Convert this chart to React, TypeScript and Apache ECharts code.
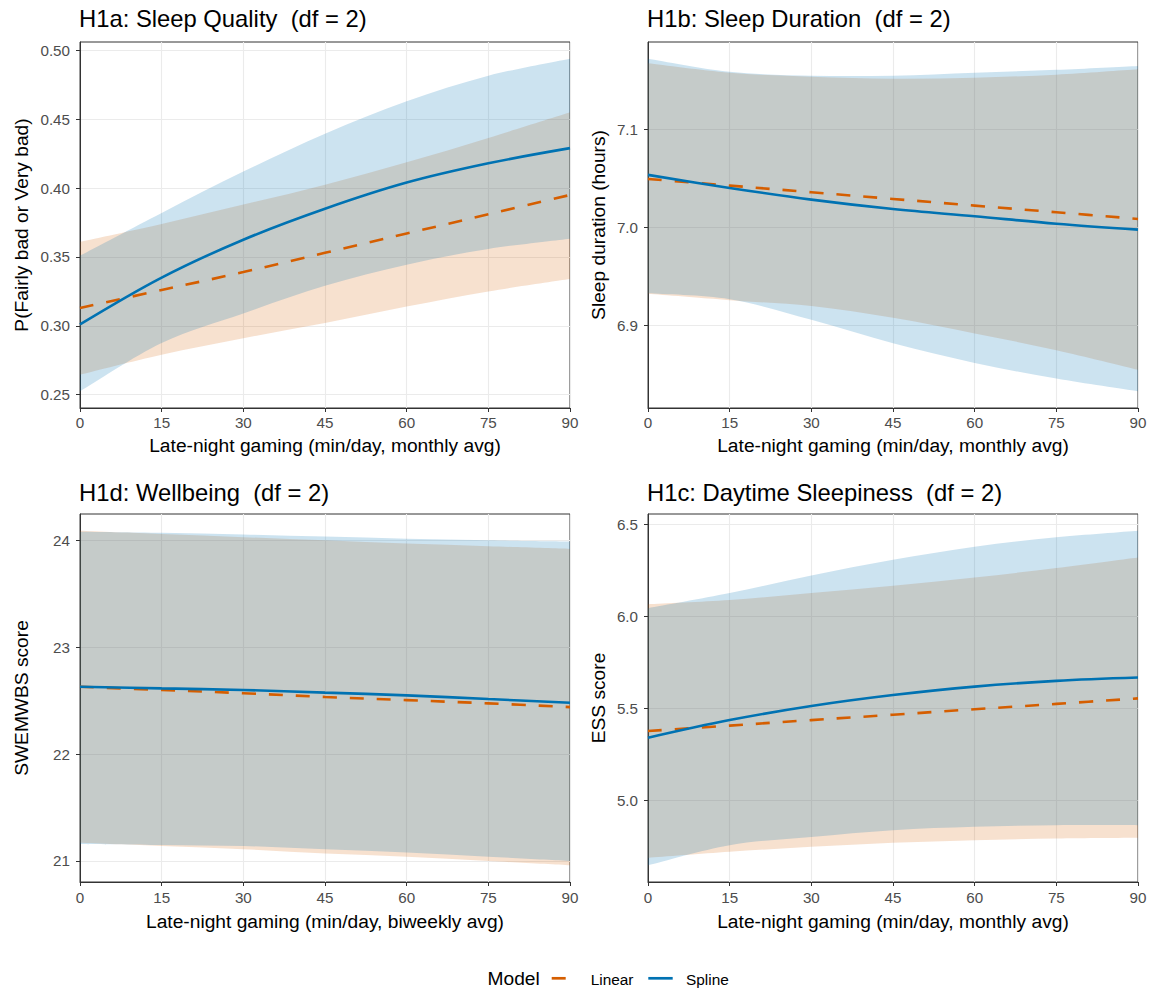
import React, { useEffect, useRef } from "react";
import * as echarts from "echarts";

// ---------- data ----------
const minutes = [0, 15, 30, 45, 60, 75, 90];

// H1a: Sleep Quality
const q_linFit = [0.313, 0.326, 0.339, 0.353, 0.367, 0.381, 0.395];
const q_linLo = [0.2645, 0.279, 0.291, 0.302, 0.314, 0.325, 0.334];
const q_linHi = [0.361, 0.374, 0.388, 0.4025, 0.4187, 0.4364, 0.455];
const q_splFit = [0.301, 0.335, 0.3625, 0.385, 0.404, 0.418, 0.429];
const q_splLo = [0.2524, 0.2875, 0.309, 0.329, 0.3444, 0.3558, 0.3633];
const q_splHi = [0.351, 0.382, 0.412, 0.4395, 0.463, 0.4816, 0.494];
const q_yTicks = [0.25, 0.3, 0.35, 0.4, 0.45, 0.5];
const q_yLabels = ["0.25", "0.30", "0.35", "0.40", "0.45", "0.50"];

// H1b: Sleep Duration
const d_linFit = [7.0497, 7.0429, 7.0361, 7.0293, 7.0225, 7.0157, 7.0089];
const d_linLo = [6.9325, 6.926, 6.92, 6.908, 6.892, 6.875, 6.855];
const d_linHi = [7.1676, 7.158, 7.154, 7.152, 7.153, 7.156, 7.1615];
const d_splFit = [7.0538, 7.0405, 7.0286, 7.019, 7.0116, 7.004, 6.998];
const d_splLo = [6.933, 6.927, 6.906, 6.882, 6.862, 6.846, 6.833];
const d_splHi = [7.1724, 7.159, 7.155, 7.155, 7.158, 7.161, 7.165];
const d_yTicks = [6.9, 7.0, 7.1];
const d_yLabels = ["6.9", "7.0", "7.1"];

// H1d: Wellbeing
const w_linFit = [22.63, 22.6, 22.57, 22.535, 22.505, 22.475, 22.44];
const w_linLo = [21.17, 21.14, 21.11, 21.07, 21.04, 21.0, 20.96];
const w_linHi = [24.09, 24.06, 24.03, 24.0, 23.97, 23.945, 23.92];
const w_splFit = [22.63, 22.615, 22.6, 22.575, 22.55, 22.515, 22.48];
const w_splLo = [21.16, 21.15, 21.14, 21.11, 21.08, 21.04, 21.0];
const w_splHi = [24.08, 24.07, 24.055, 24.035, 24.015, 24.0, 23.99];
const w_yTicks = [21, 22, 23, 24];
const w_yLabels = ["21", "22", "23", "24"];

// H1c: Daytime Sleepiness
const e_linFit = [5.3755, 5.405, 5.435, 5.464, 5.494, 5.523, 5.553];
const e_linLo = [4.686, 4.719, 4.746, 4.768, 4.782, 4.791, 4.795];
const e_linHi = [6.065, 6.088, 6.125, 6.165, 6.21, 6.261, 6.319];
const e_splFit = [5.339, 5.435, 5.5115, 5.571, 5.617, 5.648, 5.666];
const e_splLo = [4.646, 4.755, 4.8, 4.837, 4.855, 4.864, 4.864];
const e_splHi = [6.043, 6.125, 6.221, 6.306, 6.377, 6.428, 6.464];
const e_yTicks = [5.0, 5.5, 6.0, 6.5];
const e_yLabels = ["5.0", "5.5", "6.0", "6.5"];

const panelTitles = [
  "H1a: Sleep Quality  (df = 2)",
  "H1b: Sleep Duration  (df = 2)",
  "H1d: Wellbeing  (df = 2)",
  "H1c: Daytime Sleepiness  (df = 2)",
];
const yNames = ["P(Fairly bad or Very bad)", "Sleep duration (hours)", "SWEMWBS score", "ESS score"];
const xNames = [
  "Late-night gaming (min/day, monthly avg)",
  "Late-night gaming (min/day, monthly avg)",
  "Late-night gaming (min/day, biweekly avg)",
  "Late-night gaming (min/day, monthly avg)",
];
const legendTitle = "Model";
const modelNames = ["Linear", "Spline"];

// ---------- styling / layout ----------
const FONT = "'Liberation Sans', Arial, Helvetica, sans-serif";
const ORANGE = "#D55E00";
const BLUE = "#0072B2";
const ORANGE_FILL = "rgba(213,94,0,0.19)";
const BLUE_FILL = "rgba(0,114,178,0.2)";
const layouts = [
  { left: 80, top: 42, width: 490, height: 366, yGap: 49, xGap: 28, titleX: 79, titleY: 18, lblMargin: 7 },
  { left: 648, top: 42, width: 490, height: 366, yGap: 40, xGap: 28, titleX: 647, titleY: 18, lblMargin: 7 },
  { left: 80, top: 514, width: 490, height: 368, yGap: 49, xGap: 30, titleX: 79, titleY: 492.5, lblMargin: 8 },
  { left: 648, top: 514, width: 490, height: 368, yGap: 40, xGap: 30, titleX: 647, titleY: 492.5, lblMargin: 8 },
];

const panels = [
  { linFit: q_linFit, linLo: q_linLo, linHi: q_linHi, splFit: q_splFit, splLo: q_splLo, splHi: q_splHi, yTicks: q_yTicks, yLabels: q_yLabels },
  { linFit: d_linFit, linLo: d_linLo, linHi: d_linHi, splFit: d_splFit, splLo: d_splLo, splHi: d_splHi, yTicks: d_yTicks, yLabels: d_yLabels },
  { linFit: w_linFit, linLo: w_linLo, linHi: w_linHi, splFit: w_splFit, splLo: w_splLo, splHi: w_splHi, yTicks: w_yTicks, yLabels: w_yLabels },
  { linFit: e_linFit, linLo: e_linLo, linHi: e_linHi, splFit: e_splFit, splLo: e_splLo, splHi: e_splHi, yTicks: e_yTicks, yLabels: e_yLabels },
];

const SMOOTH = 0.35;

// smooth curve segments (Catmull-Rom style) through pixel points
function curveThrough(pts: number[][], k: number) {
  let d = "";
  for (let i = 0; i < pts.length - 1; i++) {
    const p0 = pts[Math.max(i - 1, 0)];
    const p1 = pts[i];
    const p2 = pts[i + 1];
    const p3 = pts[Math.min(i + 2, pts.length - 1)];
    const c1x = p1[0] + (p2[0] - p0[0]) * k;
    const c1y = p1[1] + (p2[1] - p0[1]) * k;
    const c2x = p2[0] - (p3[0] - p1[0]) * k;
    const c2y = p2[1] - (p3[1] - p1[1]) * k;
    d += `C${c1x.toFixed(2)},${c1y.toFixed(2)} ${c2x.toFixed(2)},${c2y.toFixed(2)} ${p2[0].toFixed(2)},${p2[1].toFixed(2)}`;
  }
  return d;
}

function bandRenderer(fill: string) {
  return (params: any, api: any) => {
    if (params.dataIndexInside !== 0) return null;
    const n = params.dataInsideLength;
    const up: number[][] = [];
    const dn: number[][] = [];
    for (let k = 0; k < n; k++) {
      const x = api.value(0, k);
      up.push(api.coord([x, api.value(2, k)]));
      dn.push(api.coord([x, api.value(1, k)]));
    }
    const rdn = dn.slice().reverse();
    const d =
      `M${up[0][0].toFixed(2)},${up[0][1].toFixed(2)}` +
      curveThrough(up, 1 / 6) +
      `L${rdn[0][0].toFixed(2)},${rdn[0][1].toFixed(2)}` +
      curveThrough(rdn, 1 / 6) +
      "Z";
    return {
      type: "path",
      shape: { pathData: d },
      style: { fill, stroke: "none" },
      silent: true,
    };
  };
}

function buildOption() {
  const grid: any[] = [];
  const xAxis: any[] = [];
  const yAxis: any[] = [];
  const series: any[] = [];
  const graphic: any[] = [];

  panels.forEach((p, i) => {
    const L = layouts[i];
    grid.push({
      left: L.left, top: L.top, width: L.width, height: L.height,
      show: true, borderColor: "#333333", borderWidth: 1, backgroundColor: "#ffffff",
    });
    const all = [...p.linLo, ...p.linHi, ...p.splLo, ...p.splHi, ...p.linFit, ...p.splFit];
    const lo = Math.min(...all);
    const hi = Math.max(...all);
    const pad = (hi - lo) * 0.05;
    xAxis.push({
      type: "value", gridIndex: i, min: 0, max: 90, interval: 15,
      axisLine: { show: true, onZero: false, lineStyle: { color: "#333333", width: 1 } },
      axisTick: { show: true, length: 4, lineStyle: { color: "#333333", width: 1 } },
      axisLabel: { color: "#4D4D4D", fontSize: 15.2, fontFamily: FONT, margin: L.lblMargin, showMinLabel: true, showMaxLabel: true },
      splitLine: { show: true, lineStyle: { color: "#EBEBEB", width: 1.1 } },
      name: xNames[i], nameLocation: "middle", nameGap: L.xGap,
      nameTextStyle: { color: "#000000", fontSize: 19.2, fontFamily: FONT },
    });
    const labels = p.yLabels;
    const ticks = p.yTicks;
    yAxis.push({
      type: "value", gridIndex: i, min: lo - pad, max: hi + pad, scale: true,
      axisLine: { show: true, onZero: false, lineStyle: { color: "#333333", width: 1 } },
      axisTick: { show: true, length: 4, customValues: ticks, lineStyle: { color: "#333333", width: 1 } },
      axisLabel: {
        color: "#4D4D4D", fontSize: 15.2, fontFamily: FONT, margin: 10, customValues: ticks,
        formatter: (v: number) => {
          let best = 0;
          ticks.forEach((t, k) => { if (Math.abs(t - v) < Math.abs(ticks[best] - v)) best = k; });
          return labels[best];
        },
      },
      splitLine: { show: true, lineStyle: { color: "#EBEBEB", width: 1.1 } },
      name: yNames[i], nameLocation: "middle", nameGap: L.yGap,
      nameTextStyle: { color: "#000000", fontSize: 19.2, fontFamily: FONT },
    });

    const bands = [
      { lo: p.linLo, hi: p.linHi, fill: ORANGE_FILL },
      { lo: p.splLo, hi: p.splHi, fill: BLUE_FILL },
    ];
    bands.forEach((b, bi) => {
      series.push({
        type: "custom", xAxisIndex: i, yAxisIndex: i, silent: true, clip: true,
        data: minutes.map((x, j) => [x, b.lo[j], b.hi[j]]),
        encode: { x: 0, y: [1, 2] },
        renderItem: bandRenderer(b.fill),
        z: 1 + bi * 0.1,
      });
    });
    series.push({
      type: "line", name: modelNames[0], xAxisIndex: i, yAxisIndex: i, silent: true,
      data: minutes.map((x, j) => [x, p.linFit[j]]),
      symbol: "none", smooth: SMOOTH, z: 3,
      lineStyle: { color: ORANGE, width: 2.6, type: [14, 13], cap: "butt" },
    });
    series.push({
      type: "line", name: modelNames[1], xAxisIndex: i, yAxisIndex: i, silent: true,
      data: minutes.map((x, j) => [x, p.splFit[j]]),
      symbol: "none", smooth: SMOOTH, z: 4,
      lineStyle: { color: BLUE, width: 2.6 },
    });

    graphic.push({
      type: "text", x: L.titleX, y: L.titleY,
      style: { text: panelTitles[i], fill: "#000000", font: `23.8px ${FONT}`, verticalAlign: "middle", align: "left" },
    });
  });

  // legend
  graphic.push({
    type: "text", x: 487.5, y: 978,
    style: { text: legendTitle, fill: "#000000", font: `19.2px ${FONT}`, verticalAlign: "middle", align: "left" },
  });
  graphic.push({
    type: "line", shape: { x1: 551.7, y1: 978.3, x2: 565.7, y2: 978.3 },
    style: { stroke: ORANGE, lineWidth: 2.7 },
  });
  graphic.push({
    type: "text", x: 590.7, y: 979,
    style: { text: modelNames[0], fill: "#000000", font: `15.4px ${FONT}`, verticalAlign: "middle", align: "left" },
  });
  graphic.push({
    type: "line", shape: { x1: 648.3, y1: 978.3, x2: 672.7, y2: 978.3 },
    style: { stroke: BLUE, lineWidth: 2.7 },
  });
  graphic.push({
    type: "text", x: 686, y: 979,
    style: { text: modelNames[1], fill: "#000000", font: `15.4px ${FONT}`, verticalAlign: "middle", align: "left" },
  });

  return {
    animation: false,
    backgroundColor: "#ffffff",
    textStyle: { fontFamily: FONT },
    grid, xAxis, yAxis, series, graphic,
  };
}

export default function App() {
  const ref = useRef<HTMLDivElement>(null);
  useEffect(() => {
    if (!ref.current) return;
    const chart = echarts.init(ref.current, undefined, { renderer: "svg" });
    chart.setOption(buildOption() as any);
    return () => chart.dispose();
  }, []);
  return (
    <div
      ref={ref}
      style={{ position: "absolute", left: 0, top: 0, width: 1153, height: 989, background: "#ffffff" }}
    />
  );
}
